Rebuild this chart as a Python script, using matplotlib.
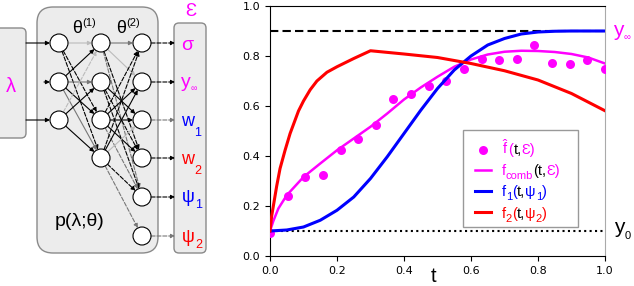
import numpy as np
import matplotlib
matplotlib.use("Agg")
import matplotlib.pyplot as plt
from matplotlib.patches import FancyBboxPatch, Circle, Rectangle

# data
t_pts = np.linspace(0, 1, 20)
f_hat = [0.093, 0.239, 0.316, 0.323, 0.426, 0.469, 0.523, 0.630, 0.649, 0.682,
         0.702, 0.748, 0.789, 0.785, 0.790, 0.846, 0.772, 0.770, 0.785, 0.750]

t_comb = [0, 0.01, 0.025, 0.05, 0.1, 0.15, 0.2, 0.25, 0.3, 0.35, 0.4, 0.45, 0.5,
          0.55, 0.6, 0.65, 0.7, 0.75, 0.8, 0.85, 0.9, 0.95, 1.0]
f_comb = [0.1, 0.14, 0.19, 0.243, 0.316, 0.37, 0.423, 0.47, 0.517, 0.57, 0.626, 0.674,
          0.717, 0.757, 0.786, 0.806, 0.817, 0.821, 0.82, 0.816, 0.808, 0.794, 0.77]

t_f1 = [0, 0.05, 0.1, 0.15, 0.2, 0.25, 0.3, 0.35, 0.4, 0.45, 0.5, 0.55, 0.6, 0.65,
        0.7, 0.75, 0.8, 0.85, 0.9, 1.0]
f1 = [0.1, 0.104, 0.116, 0.143, 0.183, 0.236, 0.31, 0.397, 0.49, 0.583, 0.67, 0.744,
      0.80, 0.844, 0.87, 0.888, 0.896, 0.899, 0.9, 0.9]

t_f2 = [0, 0.005, 0.01, 0.02, 0.03, 0.045, 0.06, 0.085, 0.1, 0.12, 0.14, 0.17, 0.2,
        0.25, 0.3, 0.4, 0.5, 0.6, 0.7, 0.8, 0.9, 1.0]
f2 = [0.1, 0.16, 0.2, 0.28, 0.35, 0.423, 0.49, 0.58, 0.62, 0.665, 0.70, 0.735, 0.757,
      0.79, 0.821, 0.808, 0.794, 0.77, 0.741, 0.704, 0.65, 0.581]

y_inf = 0.9
y_0 = 0.1
ticks = [0.0, 0.2, 0.4, 0.6, 0.8, 1.0]

M = "#ff00ff"
B = "#0000ff"
R = "#ff0000"
FAM = ["Liberation Sans", "DejaVu Sans"]
plt.rcParams["mathtext.fontset"] = "custom"
plt.rcParams["mathtext.rm"] = "Liberation Sans"
plt.rcParams["mathtext.it"] = "Liberation Sans"

W, H = 634, 286
fig = plt.figure(figsize=(W / 100, H / 100), dpi=100)
rend = fig.canvas.get_renderer()


def rich(x, y, pieces):
    # x, y in picture pixels (y from the top), y is the baseline
    for s, c, size, dy in pieces:
        t = fig.text(x / W, 1 - (y + dy) / H, s, color=c, fontsize=size,
                     va="baseline", ha="left", family=FAM)
        x = t.get_window_extent(rend).x1
    return x


# ---------------- plot ----------------
ax = fig.add_axes([270 / W, 30 / H, 335 / W, 250 / H])
ax.axhline(y_inf, color="k", ls=(0, (4, 2)), lw=1.5, zorder=1)
ax.axhline(y_0, color="k", ls=(0, (1, 1.6)), lw=1.5, zorder=1)
sc = ax.scatter(t_pts, f_hat, s=42, color=M, zorder=3, linewidths=0)
l0, = ax.plot(t_comb, f_comb, color=M, lw=1.8, zorder=4)
l1, = ax.plot(t_f1, f1, color=B, lw=2.2, zorder=4)
l2, = ax.plot(t_f2, f2, color=R, lw=2.2, zorder=4)
ax.set_xlim(0, 1)
ax.set_ylim(0, 1)
ax.set_xticks(ticks)
ax.set_yticks(ticks)
ax.tick_params(labelsize=8, length=3.5, width=0.8)
ax.spines["right"].set_color("#aaaaaa")

# legend: frame drawn as a box, first piece of every label from the legend
ax.add_patch(Rectangle((0.576, 0.116), 0.343, 0.388, transform=ax.transAxes,
                       fc="white", ec="#999999", lw=1.0, zorder=4.5))
leg = ax.legend([sc, l0, l1, l2],
                [r"$\hat{\mathrm{f}}$", "f", "f", "f"],
                loc="upper left", bbox_to_anchor=(0.594, 0.496),
                prop={"family": FAM, "size": 10.5}, frameon=False,
                handlelength=1.1, handletextpad=0.75, borderpad=0.4,
                labelspacing=0.5, scatterpoints=1, borderaxespad=0)
leg.set_zorder(5)
for txt, c in zip(leg.get_texts(), [M, M, B, R]):
    txt.set_color(c)

fig.canvas.draw()
rows = [
    [("(", M, 10.5, 0), ("t,", "k", 10.5, 0), ("Ɛ)", M, 10.5, 0)],
    [("comb", M, 8, 4), ("(t,", "k", 10.5, 0), ("Ɛ)", M, 10.5, 0)],
    [("1", B, 8, 4), ("(", B, 10.5, 0), ("t,", "k", 10.5, 0),
     ("ψ", B, 10.5, 0), ("1", B, 8, 4), (")", B, 10.5, 0)],
    [("2", R, 8, 4), ("(", R, 10.5, 0), ("t,", "k", 10.5, 0),
     ("ψ", R, 10.5, 0), ("2", R, 8, 4), (")", R, 10.5, 0)],
]
d = rend.get_text_width_height_descent("lp", leg.get_texts()[1].get_fontproperties(),
                                       ismath=False)[2]
for txt, pieces in zip(leg.get_texts(), rows):
    bb = txt.get_window_extent(rend)
    rich(bb.x1, H - (bb.y0 + d), pieces)

# labels around the axes
rich(431, 282, [("t", "k", 14.5, 0)])
rich(613, 36, [("y", M, 15, 0), ("∞", M, 7, 4)])
rich(614, 233, [("y", "k", 15, 0), ("0", "k", 8, 6)])

# ---------------- network diagram ----------------
axd = fig.add_axes([0, 0, 240 / W, 1])
axd.set_xlim(0, 240)
axd.set_ylim(H, 0)
axd.axis("off")

BOX = "#ececec"
EDGE = "#8a8a8a"
axd.add_patch(FancyBboxPatch((-6, 28), 32, 110, boxstyle="round,pad=0,rounding_size=5",
                             fc=BOX, ec=EDGE, lw=1))
axd.add_patch(FancyBboxPatch((37, 7), 121, 246, boxstyle="round,pad=0,rounding_size=16",
                             fc=BOX, ec=EDGE, lw=1))
axd.add_patch(FancyBboxPatch((174, 23), 32, 230, boxstyle="round,pad=0,rounding_size=5",
                             fc=BOX, ec=EDGE, lw=1))

r = 9
layers = [
    [(59, 43), (59, 82), (59, 120)],
    [(101, 43), (101, 82), (101, 120), (101, 158)],
    [(142, 43), (142, 82), (142, 120), (142, 158), (142, 197), (142, 236)],
]
LG = "#bbbbbb"
G = "#777777"
links01 = [(0, 0, LG, "-"), (0, 2, "k", "--"), (0, 3, "k", "--"),
           (1, 0, "k", "-"), (1, 1, G, "-"), (1, 2, "k", "-"), (1, 3, G, "-"),
           (2, 0, LG, "--"), (2, 1, "k", "-"), (2, 3, "k", "-")]
links12 = [(0, 0, G, "-"), (0, 1, LG, "-"), (0, 3, "k", "--"), (0, 4, G, "--"),
           (1, 2, "k", "-"), (1, 3, "k", "--"), (1, 4, "k", "--"),
           (2, 0, "k", "--"), (2, 1, "k", "-"), (2, 2, "k", "-"), (2, 3, "k", "-"),
           (2, 4, G, "--"),
           (3, 0, "k", "--"), (3, 1, "k", "-"), (3, 2, LG, "-"), (3, 4, "k", "--"),
           (3, 5, G, "--")]


def link(p, q, c, ls):
    p = np.array(p, float)
    q = np.array(q, float)
    u = (q - p) / np.hypot(*(q - p))
    axd.annotate("", xy=q - u * r, xytext=p + u * r,
                 arrowprops=dict(arrowstyle="-|>", color=c, lw=0.8, ls=ls,
                                 mutation_scale=6, shrinkA=0, shrinkB=0))


for a, b, c, ls in links01:
    link(layers[0][a], layers[1][b], c, ls)
for a, b, c, ls in links12:
    link(layers[1][a], layers[2][b], c, ls)

# input arrows
for y, x0 in [(43, 26), (82, 44), (120, 26)]:
    axd.annotate("", xy=(50, y), xytext=(x0, y),
                 arrowprops=dict(arrowstyle="-|>", color="k", lw=0.8,
                                 mutation_scale=6, shrinkA=0, shrinkB=0))
# output arrows
out_cols = ["k", "k", G, "k", "k", G]
for (x, y), c in zip(layers[2], out_cols):
    axd.annotate("", xy=(175, y), xytext=(x + r, y),
                 arrowprops=dict(arrowstyle="-|>", color=c, lw=0.8, ls="--",
                                 mutation_scale=6, shrinkA=0, shrinkB=0))

for layer in layers:
    for (x, y) in layer:
        axd.add_patch(Circle((x, y), r, fc="white", ec="k", lw=0.8, zorder=3))

# diagram text
rich(6, 92, [("λ", M, 14.5, 0)])
rich(185, 16, [("Ɛ", M, 13.5, 0)])
rich(72, 33, [("θ", "k", 13, 0), ("(1)", "k", 8, -7)])
rich(116, 33, [("θ", "k", 13, 0), ("(2)", "k", 8, -7)])
rich(55, 226, [("p(λ;θ)", "k", 14, 0)])
rich(181, 50, [("σ", M, 14, 0)])
rich(181, 87, [("y", M, 14, 0), ("∞", M, 6.5, 4)])
rich(181, 126, [("w", B, 13, 0), ("1", B, 9, 10)])
rich(181, 164, [("w", R, 13, 0), ("2", R, 9, 10)])
rich(182, 202, [("ψ", B, 13, 0), ("1", B, 9, 6)])
rich(182, 242, [("ψ", R, 13, 0), ("2", R, 9, 6)])

fig.savefig("out.png", dpi=100)
